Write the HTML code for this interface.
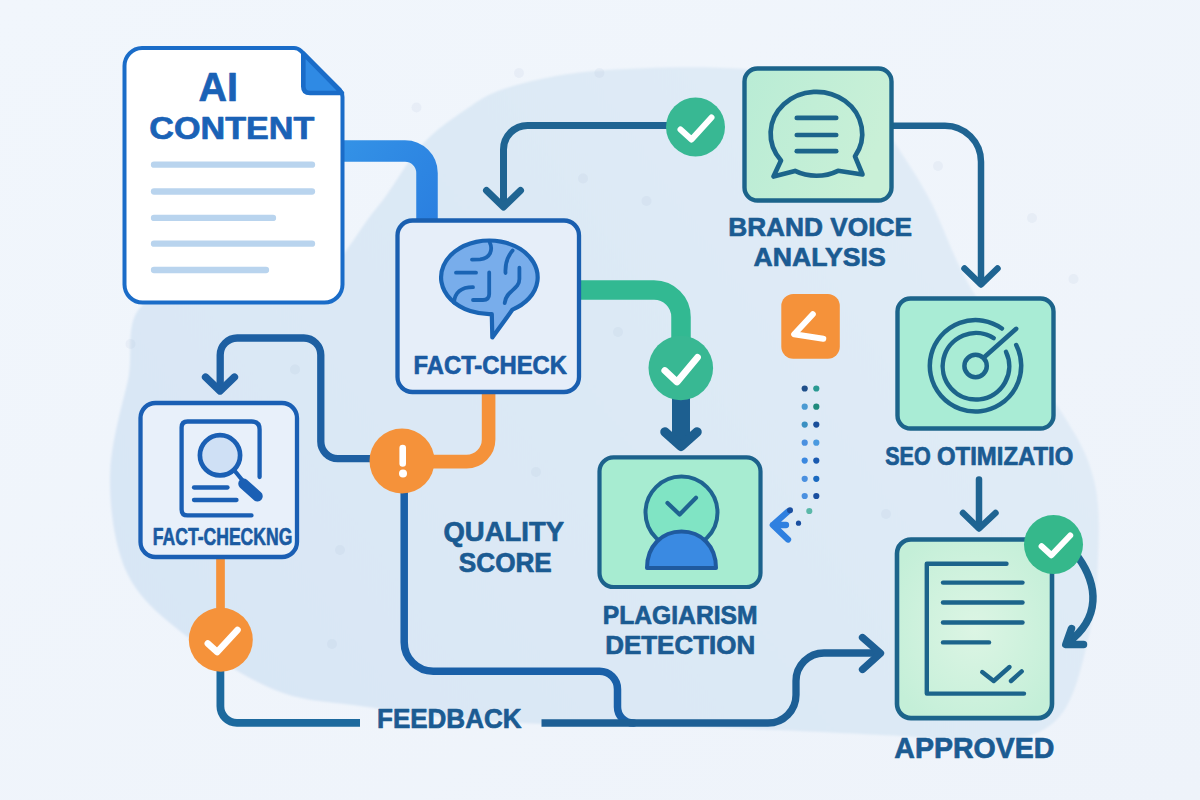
<!DOCTYPE html>
<html>
<head>
<meta charset="utf-8">
<title>AI Content Quality Workflow</title>
<style>
  html, body { margin: 0; padding: 0; }
  body { width: 1200px; height: 800px; overflow: hidden; background: #eff4fb; font-family: "Liberation Sans", sans-serif; }
  svg { display: block; }
  text { font-family: "Liberation Sans", sans-serif; font-weight: bold; stroke-width: 0.7; stroke-linejoin: round; }
</style>
</head>
<body>
<svg width="1200" height="800" viewBox="0 0 1200 800">
  <defs>
    <linearGradient id="bgGrad" x1="0" y1="0" x2="1" y2="1">
      <stop offset="0" stop-color="#f1f6fc"/>
      <stop offset="1" stop-color="#eef3fa"/>
    </linearGradient>
    <radialGradient id="apprGrad" cx="0.5" cy="0.5" r="0.6">
      <stop offset="0" stop-color="#dcf5e4"/>
      <stop offset="1" stop-color="#c4efd8"/>
    </radialGradient>
    <linearGradient id="bvGrad" x1="0" y1="0" x2="1" y2="0.3">
      <stop offset="0" stop-color="#b9ecd5"/>
      <stop offset="1" stop-color="#c9f0d7"/>
    </linearGradient>
    <linearGradient id="blobGrad" gradientUnits="userSpaceOnUse" x1="150" y1="700" x2="1000" y2="100">
      <stop offset="0" stop-color="#d8e6f5"/>
      <stop offset="0.55" stop-color="#dce9f5"/>
      <stop offset="1" stop-color="#e2ecf7"/>
    </linearGradient>
    <linearGradient id="blueConn" gradientUnits="userSpaceOnUse" x1="344" y1="150" x2="437" y2="220">
      <stop offset="0" stop-color="#3391e6"/>
      <stop offset="1" stop-color="#2a7fe0"/>
    </linearGradient>
    <filter id="blobBlur" x="-5%" y="-5%" width="110%" height="110%">
      <feGaussianBlur stdDeviation="1"/>
    </filter>
  </defs>

  <!-- ===== background ===== -->
  <rect x="0" y="0" width="1200" height="800" fill="url(#bgGrad)"/>
  <g id="blob" filter="url(#blobBlur)">
    <path d="M150.0,300.0 C121.3,315.0 134.7,350.5 128.0,380.0 C121.3,409.5 110.2,444.8 110.0,477.0 C109.8,509.2 114.5,546.7 127.0,573.0 C139.5,599.3 160.3,615.5 185.0,635.0 C209.7,654.5 245.8,678.2 275.0,690.0 C304.2,701.8 322.5,700.7 360.0,706.0 C397.5,711.3 443.3,718.5 500.0,722.0 C556.7,725.5 633.3,724.7 700.0,727.0 C766.7,729.3 850.0,733.5 900.0,736.0 C950.0,738.5 973.3,745.3 1000.0,742.0 C1026.7,738.7 1045.3,733.0 1060.0,716.0 C1074.7,699.0 1081.7,666.0 1088.0,640.0 C1094.3,614.0 1097.0,586.7 1098.0,560.0 C1099.0,533.3 1100.3,505.0 1094.0,480.0 C1087.7,455.0 1079.8,440.8 1060.0,410.0 C1040.2,379.2 996.7,330.0 975.0,295.0 C953.3,260.0 943.7,225.8 930.0,200.0 C916.3,174.2 904.7,158.3 893.0,140.0 C881.3,121.7 884.7,101.8 860.0,90.0 C835.3,78.2 788.3,72.2 745.0,69.0 C701.7,65.8 639.2,67.5 600.0,70.5 C560.8,73.5 532.5,80.4 510.0,87.0 C487.5,93.6 480.0,100.0 465.0,110.0 C450.0,120.0 435.0,130.3 420.0,147.0 C405.0,163.7 395.0,186.2 375.0,210.0 C355.0,233.8 337.5,275.0 300.0,290.0 C262.5,305.0 178.7,285.0 150.0,300.0 Z" fill="url(#blobGrad)"/>
  </g>

  <g id="speckles" fill="#8fa9c9" fill-opacity="0.09">
    <circle cx="295.0" cy="369.5" r="5"/>
    <circle cx="618.0" cy="332.0" r="5"/>
    <circle cx="332.0" cy="644.0" r="5"/>
    <circle cx="340.0" cy="550.0" r="5"/>
    <circle cx="536.0" cy="472.0" r="5"/>
    <circle cx="938.0" cy="166.0" r="5"/>
    <circle cx="1032.0" cy="218.0" r="5"/>
    <circle cx="1073.5" cy="279.0" r="5"/>
    <circle cx="519.0" cy="73.0" r="5"/>
    <circle cx="599.4" cy="73.0" r="5"/>
    <circle cx="583.0" cy="178.5" r="5"/>
    <circle cx="646.5" cy="201.0" r="5"/>
    <circle cx="886.0" cy="514.0" r="5"/>
    <circle cx="416.5" cy="107.5" r="5"/>
    <circle cx="130.5" cy="344.0" r="5"/>
  </g>

  <!-- ===== connectors (placeholder, refined later) ===== -->
  <g id="connectors" fill="none" stroke-linecap="round" stroke-linejoin="round">
    <!-- doc -> fact-check (thick blue) -->
    <path d="M343,151 H405 A22,22 0 0 1 427,173 V221" stroke="url(#blueConn)" stroke-width="21.5" stroke-linecap="butt"/>
    <!-- fact-check -> green check (thick green) -->
    <path d="M579,290 H654 A27,27 0 0 1 681,317 V345" stroke="#32b992" stroke-width="19.5" stroke-linecap="butt"/>
    <!-- green check -> plagiarism (thick dark arrow) -->
    <path d="M681,395 V443" stroke="#1d5f90" stroke-width="18" stroke-linecap="butt"/>
    <path d="M665,432 L681,446.3 L697,432" stroke="#1d5f90" stroke-width="9.5"/>
    <!-- fact-check -> ! (orange) -->
    <path d="M488.6,392 V439.6 A22,22 0 0 1 466.6,461.6 H425" stroke="#f5923a" stroke-width="13.6" stroke-linecap="butt"/>
    <!-- fact-checking -> orange check (orange) -->
    <path d="M220.5,558 V612" stroke="#f5923a" stroke-width="8.7" stroke-linecap="butt"/>

    <!-- brand voice -> check -> fact-check (top loop) -->
    <path d="M670,125.4 H527.5 A24,24 0 0 0 503.5,149.4 V205" stroke="#1f6492" stroke-width="7"/>
    <path d="M486.5,190.5 L503.5,207 L520.5,190.5" stroke="#1f6492" stroke-width="7"/>
    <!-- brand voice -> SEO -->
    <path d="M892,125.7 H945 A36,36 0 0 1 981,161.7 V283" stroke="#1f6492" stroke-width="6.5"/>
    <path d="M964.5,268.5 L981,284.5 L997.5,268.5" stroke="#1f6492" stroke-width="6.5"/>
    <!-- SEO -> approved -->
    <path d="M979,479.5 V525" stroke="#1f6492" stroke-width="6.5"/>
    <path d="M963,513 L979,528.5 L995.5,513" stroke="#1f6492" stroke-width="6.5"/>
    <!-- approved loop arrow -->
    <path d="M1078,557 C1098,585 1101,618 1068,642.5" stroke="#1f6492" stroke-width="7.5"/>
    <path d="M1071.5,628.5 L1065.8,644.5 L1083.5,644.5" stroke="#1f6492" stroke-width="7.5"/>

    <!-- ! -> left -> up -> fact-checking -->
    <path d="M372,458.6 H337.8 A17,17 0 0 1 320.8,441.6 V355 A17,17 0 0 0 303.8,338 H237.2 A17,17 0 0 0 220.2,355 V389" stroke="#1d5fa2" stroke-width="7.3"/>
    <path d="M205.5,377 L220,391 L234.5,377" stroke="#1d5fa2" stroke-width="7.3"/>
    <!-- ! -> down -> right -> merges feedback line -->
    <path d="M404.2,490 V642 A29,29 0 0 0 433.2,671.2 H599.5 A18,18 0 0 1 617.5,689.2 V707 A16,16 0 0 0 633.5,723" stroke="#1a60a8" stroke-width="7.5"/>
    <!-- orange check -> feedback (left segment) -->
    <path d="M220.4,670 V706.3 A16.5,16.5 0 0 0 236.9,722.8 H360" stroke="#1c699e" stroke-width="7.8" stroke-linecap="butt"/>
    <!-- feedback (right segment) -> approved -->
    <path d="M541.5,723 H768 A28,28 0 0 0 796,695 V681 A28,28 0 0 1 824,653 H878" stroke="#1d5f95" stroke-width="7.3" stroke-linecap="butt"/>
    <path d="M862.5,637.5 L880.5,653.3 L862.5,669.5" stroke="#1d5f95" stroke-width="7.3"/>

    <!-- dotted path -->
    <path d="M786,525 H773 M788,511.5 L772.8,525 L788,539.5" stroke="#2f80e0" stroke-width="6.3"/>
    <g stroke="none">
      <circle cx="804.7" cy="388.5" r="3.1" fill="#1f4f8a"/><circle cx="816.3" cy="388.5" r="3.1" fill="#2a9a92"/>
      <circle cx="804.7" cy="406.7" r="3.1" fill="#4a9ad2"/><circle cx="816.3" cy="406.7" r="3.1" fill="#1f8a7c"/>
      <circle cx="804.7" cy="424.6" r="3.1" fill="#3a90c2"/><circle cx="816.3" cy="424.6" r="3.1" fill="#1a4f9a"/>
      <circle cx="804.7" cy="442.7" r="3.1" fill="#4a90e0"/><circle cx="816.3" cy="442.7" r="3.1" fill="#4a9ae0"/>
      <circle cx="804.7" cy="460.6" r="3.1" fill="#3a88e0"/><circle cx="816.3" cy="460.6" r="3.1" fill="#1a5ab0"/>
      <circle cx="804.7" cy="478.8" r="3.1" fill="#4a90e0"/><circle cx="816.3" cy="478.8" r="3.1" fill="#1a6ac0"/>
      <circle cx="804.7" cy="496" r="3.1" fill="#4a90e0"/><circle cx="816.3" cy="496" r="3.1" fill="#1a4fa0"/>
      <circle cx="809.3" cy="511" r="3.1" fill="#5ab8a8"/>
      <circle cx="790" cy="510.3" r="3" fill="#1a4fa0"/>
      <circle cx="798.5" cy="523.2" r="2.6" fill="#1a4fa0"/>
    </g>
  </g>

  <!-- ===== nodes ===== -->
  <g id="nodes" stroke-linecap="round" stroke-linejoin="round">
    <!-- AI CONTENT document -->
    <path d="M142,48 H294 Q298,48 301,51 L340,90 Q342.5,93 342.5,97 V284.5 A18,18 0 0 1 324.5,302.5 H142.5 A18,18 0 0 1 124.5,284.5 V66 A18,18 0 0 1 142,48 Z" fill="#ffffff" stroke="#1a6cc8" stroke-width="4"/>
    <path d="M303.3,53.5 V86.5 Q303.3,93 310,93 H342 Z" fill="#2f8ae4" stroke="#1a6cc8" stroke-width="4.6"/>
    <g stroke="#b9d4ee" stroke-width="6.3" fill="none">
      <path d="M154,164.7 H312"/>
      <path d="M154,191.5 H312"/>
      <path d="M154,217.9 H273"/>
      <path d="M154,243.7 H312"/>
      <path d="M154,270 H266"/>
    </g>

    <!-- FACT-CHECK box -->
    <rect x="397.5" y="220.5" width="181.5" height="171.5" rx="15" fill="#e6eef9" stroke="#1a5fb0" stroke-width="4.3"/>
    <g id="brain">
      <path d="M512.5,309.6 A48.3,36.8 0 1 0 491.8,314.05 L492.3,337.5 Z" fill="#78adeb" stroke="#1a64b4" stroke-width="4.2"/>
      <g fill="none" stroke="#1a64b4" stroke-width="3.8">
        <path d="M489.8,242.5 C492.8,249 491,258.5 480,259.3 L472,259.7"/>
        <path d="M456,272.7 H476"/>
        <path d="M453.9,302.5 C455,292 461,287.3 473,287.2"/>
        <path d="M489.2,272.4 V294 Q489.2,300 483,300 H473"/>
        <path d="M512.6,250.5 C507,257 505,264 505.5,273"/>
        <path d="M519.4,267.7 V279 C519.4,290 506,290 504.7,303"/>
      </g>
    </g>

    <!-- BRAND VOICE box -->
    <rect x="744.5" y="68.5" width="147" height="132" rx="13" fill="url(#bvGrad)" stroke="#1c648b" stroke-width="4.4"/>
    <g fill="none" stroke="#1c648b" stroke-width="4.7">
      <path d="M781,160.45 A45.8,42 0 1 1 855,156.4 L862.5,174.5 L838,170.8 A45.8,42 0 0 1 795,170.9 L773.5,176.5 Z"/>
      <path d="M796.8,117.9 H836.2"/>
      <path d="M796.8,135 H836.2"/>
      <path d="M796.8,151.2 H836.2"/>
    </g>

    <!-- SEO box -->
    <rect x="897.5" y="298.5" width="156" height="130" rx="13" fill="#a9ecd5" stroke="#1c648b" stroke-width="4.4"/>
    <g fill="none" stroke="#1c648b" stroke-width="4.5">
      <circle cx="975.6" cy="366" r="11.2"/>
      <path d="M993.7,338.1 A33.3,33.3 0 1 0 1006,351.9"/>
      <path d="M1001.9,328.5 A45.7,45.7 0 1 0 1016.2,345"/>
      <path d="M985,356.5 L1016.2,328.8"/>
    </g>

    <!-- PLAGIARISM box -->
    <rect x="599.5" y="457.3" width="161" height="129.7" rx="14" fill="#a7ecd1" stroke="#1c628c" stroke-width="4.2"/>
    <circle cx="681.5" cy="512.5" r="36" fill="#80e4c4" stroke="#1f6391" stroke-width="4"/>
    <path d="M667.5,503 L679.6,514.5 L696,497.8" fill="none" stroke="#1f6391" stroke-width="4.2"/>
    <path d="M647,568 C647,546 662,531.5 681.5,531.5 C701,531.5 716,546 716,568 Z" fill="#3a8ae2" stroke="#1f5a9f" stroke-width="4"/>

    <!-- APPROVED box -->
    <rect x="897" y="539.5" width="155" height="178.6" rx="14" fill="url(#apprGrad)" stroke="#1c648b" stroke-width="4.6"/>
    <g fill="none" stroke="#1c648b" stroke-width="4.4">
      <path d="M1006.5,563.8 H926.8 V693.6 H1024"/>
      <path d="M943,582.6 H1022.5"/>
      <path d="M943,602.5 H1022.5"/>
      <path d="M943,622.5 H1022.5"/>
      <path d="M943,642.4 H989"/>
      <path d="M982.2,672 L993.7,681 L1009.5,667"/>
      <path d="M1011,681 L1021.7,671.4"/>
    </g>
    <circle cx="1053.5" cy="544.5" r="29.5" fill="#35b88b"/>
    <path d="M1041.6,546.2 L1051.4,555.3 L1070.2,535.5" fill="none" stroke="#ffffff" stroke-width="6"/>

    <!-- FACT-CHECKING box -->
    <rect x="140.5" y="403" width="156.5" height="154" rx="15" fill="#e8f0fa" stroke="#1a5fb4" stroke-width="4.3"/>
    <g fill="none" stroke="#1a5fb4" stroke-width="4.3">
      <path d="M259.6,477 V429.5 Q259.6,421.5 251.6,421.5 H187.6 Q181.6,421.5 181.6,427.5 V509.4 Q181.6,515.4 187.6,515.4 H251.5"/>
      <path d="M194,487.5 H227.5"/>
      <path d="M194,500 H236.5"/>
    </g>
    <circle cx="220" cy="455.3" r="20.1" fill="#cfe0f5" stroke="#1a5fb4" stroke-width="4.7"/>
    <path d="M234,470 L243,481" fill="none" stroke="#1a5fb4" stroke-width="4.2"/>
    <path d="M243.5,483.8 L257.5,496.2" fill="none" stroke="#1a5fb4" stroke-width="10.5"/>
    
    <!-- status circles -->
    <circle cx="695.5" cy="127" r="29.5" fill="#38b893"/>
    <path d="M680.5,129.5 L691.5,139.5 L711.5,117.5" fill="none" stroke="#ffffff" stroke-width="6"/>
    <circle cx="680.8" cy="368" r="32.3" fill="#38b893"/>
    <path d="M664.8,370.5 L677,382 L697.5,357.3" fill="none" stroke="#ffffff" stroke-width="6.8"/>
    <circle cx="402" cy="461" r="32.5" fill="#f5923a"/>
    <path d="M402.7,448 V463.5" fill="none" stroke="#ffffff" stroke-width="6.6"/>
    <circle cx="403" cy="473.4" r="4" fill="#ffffff"/>
    <circle cx="220.8" cy="639.7" r="32" fill="#f5923a"/>
    <path d="M207.8,643.5 L217.2,652 L237.5,630" fill="none" stroke="#ffffff" stroke-width="6.5"/>

    <!-- orange square -->
    <rect x="781.3" y="294" width="58.5" height="64.7" rx="12" fill="#f5923a"/>
    <path d="M812.8,314.3 L794.2,334.2 L823.3,338.8" fill="none" stroke="#ffffff" stroke-width="6"/>
  </g>

  <!-- ===== labels ===== -->
  <g id="labels" fill="#1b5b92" stroke="#1b5b92">
    <text x="198.5" y="101.4" font-size="40.4" textLength="39.5" lengthAdjust="spacingAndGlyphs" fill="#1a62b6" stroke="#1a62b6">AI</text>
    <text x="149.3" y="138.7" font-size="31.3" textLength="165" lengthAdjust="spacingAndGlyphs" fill="#1a62b6" stroke="#1a62b6">CONTENT</text>
    <text x="413.5" y="374" font-size="25.7" textLength="153.5" lengthAdjust="spacingAndGlyphs" fill="#1a5aa2" stroke="#1a5aa2">FACT-CHECK</text>
    <text x="728.2" y="235.8" font-size="26.3" textLength="183.8" lengthAdjust="spacingAndGlyphs">BRAND VOICE</text>
    <text x="753.5" y="265.8" font-size="26.7" textLength="132.3" lengthAdjust="spacingAndGlyphs">ANALYSIS</text>
    <text x="885.2" y="464.6" font-size="25.1" textLength="45.5" lengthAdjust="spacingAndGlyphs">SEO</text>
    <text x="937" y="464.6" font-size="25.1" textLength="136.3" lengthAdjust="spacingAndGlyphs">OTIMIZATIO</text>
    <text x="602.8" y="623.8" font-size="25.6" textLength="154.7" lengthAdjust="spacingAndGlyphs">PLAGIARISM</text>
    <text x="605.2" y="654.3" font-size="25.8" textLength="150" lengthAdjust="spacingAndGlyphs">DETECTION</text>
    <text x="894.3" y="757.5" font-size="28.9" textLength="160" lengthAdjust="spacingAndGlyphs">APPROVED</text>
    <text x="152.8" y="544.5" font-size="24.6" textLength="139.5" lengthAdjust="spacingAndGlyphs" fill="#1a5aa2" stroke="#1a5aa2" stroke-width="0.3">FACT-CHECKNG</text>
    <text x="443.5" y="540.5" font-size="27.2" textLength="120.5" lengthAdjust="spacingAndGlyphs">QUALITY</text>
    <text x="458.8" y="571.6" font-size="27.5" textLength="93" lengthAdjust="spacingAndGlyphs">SCORE</text>
    <text x="377" y="727.6" font-size="27.3" textLength="144.5" lengthAdjust="spacingAndGlyphs">FEEDBACK</text>
  </g>
</svg>
</body>
</html>
